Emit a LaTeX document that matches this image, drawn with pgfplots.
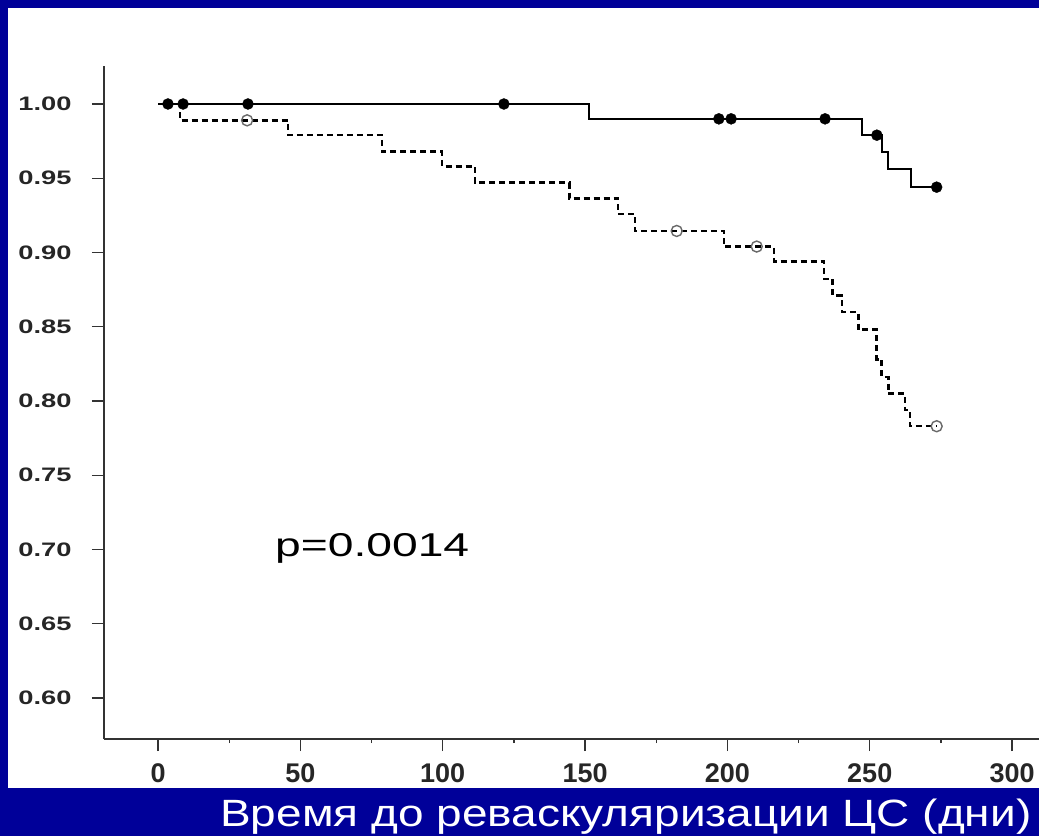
\documentclass[border=0pt]{standalone}
\usepackage{pgfplots}
\pgfplotsset{compat=1.18}
\usepackage{fontspec}
\setmainfont{Liberation Sans}
\usepackage{graphicx}

\definecolor{slideblue}{RGB}{0,0,153}
\definecolor{censorgray}{RGB}{105,105,105}

% y tick labels are set wide on this slide
\newcommand\ylab[1]{\scalebox{1.4}[1]{\fontsize{19.5}{20}\selectfont\bfseries #1}}

% Kaplan-Meier steps: day, survival
\pgfplotstableread{
day surv
0     1.000
151.4 0.990
247.4 0.979
254.4 0.968
256.5 0.956
264.4 0.944
273.5 0.944
}\groupA

\pgfplotstableread{
day surv
3.5   1.000
8.8   1.000
31.6  1.000
121.5 1.000
197.0 0.990
201.3 0.990
234.3 0.990
252.5 0.979
273.5 0.944
}\censorA

\pgfplotstableread{
day surv
0     1.000
7.7   0.989
45.7  0.979
78.7  0.968
99.8  0.958
111.3 0.947
144.5 0.9365
161.5 0.926
167.5 0.9145
198.8 0.904
216.4 0.894
234.0 0.882
237.0 0.871
240.2 0.860
246.0 0.848
252.4 0.828
254.2 0.816
256.5 0.805
262.4 0.794
264.1 0.783
273.5 0.783
}\groupB

\pgfplotstableread{
day surv
31.3  0.989
182.2 0.9145
210.3 0.904
273.5 0.783
}\censorB

\begin{document}
\begin{tikzpicture}[x=1pt,y=1pt]
\useasboundingbox (0,0) rectangle (1039,836);
\clip (0,0) rectangle (1039,836);
\fill[slideblue] (0,0) rectangle (1039,836);
\fill[white] (8,48) rectangle (1039,828);

\begin{axis}[
  at={(104pt,97pt)}, anchor=south west,
  scale only axis, width=935pt, height=673pt,
  xmin=-18.97, xmax=309.45, ymin=0.57239, ymax=1.02559,
  axis x line=bottom, axis y line=left,
  axis line style={-, line width=1.3pt, black!80},
  tick align=outside,
  major tick length=12pt, minor tick length=4pt,
  every tick/.style={line width=1.3pt, black!80},
  xtick={0,50,100,150,200,250,300},
  xticklabels={0,50,100,150,200,250,300},
  minor xtick={25,75,125,175,225,275},
  ytick={0.60,0.65,0.70,0.75,0.80,0.85,0.90,0.95,1.00},
  yticklabels={\ylab{0.60},\ylab{0.65},\ylab{0.70},\ylab{0.75},\ylab{0.80},\ylab{0.85},\ylab{0.90},\ylab{0.95},\ylab{1.00}},
  xticklabel style={font=\fontsize{27}{28}\selectfont\bfseries, text=black!85, yshift=-9pt},
  yticklabel style={text=black!85, xshift=-17pt},
  clip=false,
]
\addplot[const plot, black, line width=2.5pt, dash pattern=on 6pt off 4pt] table[x=day,y=surv]{\groupB};
\addplot[const plot, black, line width=2pt] table[x=day,y=surv]{\groupA};
\addplot[only marks, mark=o, mark size=5.5pt, censorgray, line width=1.4pt] table[x=day,y=surv]{\censorB};
\addplot[only marks, mark=*, mark size=5.5pt, black] table[x=day,y=surv]{\censorA};
\end{axis}

\node[anchor=base west, inner sep=0pt] at (275,279)
  {\scalebox{1.4}[1]{\fontsize{33}{35}\selectfont p=0.0014}};
\node[anchor=base west, inner sep=0pt, text=white] at (220,10)
  {\scalebox{1.21}[1]{\fontsize{38}{40}\selectfont Время до реваскуляризации ЦС (дни)}};
\end{tikzpicture}
\end{document}
